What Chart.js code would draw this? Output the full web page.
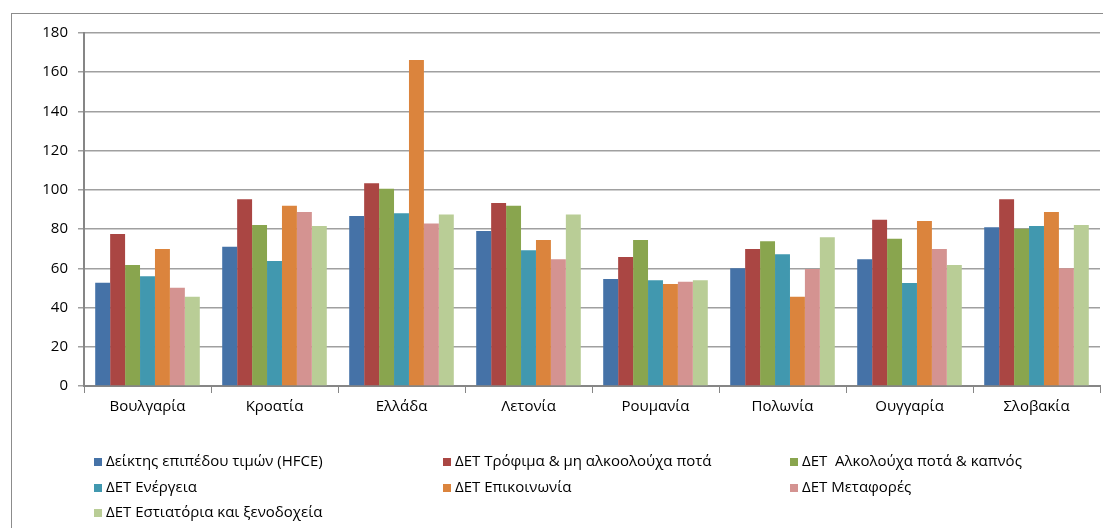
<!DOCTYPE html>
<html>
<head>
<meta charset="utf-8">
<script src="https://cdn.jsdelivr.net/npm/chart.js@4.4.1/dist/chart.umd.min.js"></script>
<style>
  html, body { margin: 0; padding: 0; background: #fff; overflow: hidden; }
  #wrap { position: relative; width: 1103px; height: 528px; }
  #frame { position: absolute; left: 11px; top: 13px; width: 1200px; height: 600px; border: 1px solid #8c8c8c; }
  #chartBox { position: absolute; left: 0; top: 0; width: 1103px; height: 528px; }
  #legend { position: absolute; left: 0; top: 0; font-family: "Open Sans", "Liberation Sans", sans-serif; font-size: 15px; color: #000; }
  .item { position: absolute; white-space: nowrap; line-height: 16px; }
  .item span.box { display: inline-block; width: 8px; height: 8px; margin-right: 4px; vertical-align: 0px; }
</style>
</head>
<body>
<div id="wrap">
  <div id="frame"></div>
  <div id="chartBox"><canvas id="myChart"></canvas></div>
  <div id="legend"></div>
</div>
<script>
// Χώρες
const paises = ['Βουλγαρία', 'Κροατία', 'Ελλάδα', 'Λετονία', 'Ρουμανία', 'Πολωνία', 'Ουγγαρία', 'Σλοβακία'];

// Σειρές
const seriesNames = [
  'Δείκτης επιπέδου τιμών (HFCE)',
  'ΔΕΤ Τρόφιμα & μη αλκοολούχα ποτά',
  'ΔΕΤ  Αλκολούχα ποτά & καπνός',
  'ΔΕΤ Ενέργεια',
  'ΔΕΤ Επικοινωνία',
  'ΔΕΤ Μεταφορές',
  'ΔΕΤ Εστιατόρια και ξενοδοχεία'
];

const hfce       = [52.7, 71.0, 86.7, 79.0, 54.6, 60.0, 64.6, 80.9];
const trofima    = [77.5, 95.2, 103.4, 93.3, 65.8, 69.9, 84.8, 95.2];
const alkoolouxa = [61.7, 82.1, 100.6, 91.9, 74.5, 73.8, 75.1, 80.2];
const energeia   = [55.9, 63.7, 88.1, 69.2, 53.9, 67.2, 52.5, 81.6];
const epikoinonia= [69.9, 91.9, 166.2, 74.5, 52.0, 45.5, 84.1, 88.7];
const metafores  = [50.1, 88.7, 82.8, 64.6, 53.2, 59.7, 69.9, 60.0];
const estiatoria = [45.5, 81.6, 87.4, 87.4, 53.9, 75.8, 61.7, 82.1];

const yTicks = [0, 20, 40, 60, 80, 100, 120, 140, 160, 180];

const colores = ['#4572A7', '#AA4643', '#89A54E', '#4198AF', '#DB843D', '#D49391', '#B9CD96'];
const valores = [hfce, trofima, alkoolouxa, energeia, epikoinonia, metafores, estiatoria];

const datasets = seriesNames.map((name, i) => ({
  label: name,
  data: valores[i],
  backgroundColor: colores[i],
  borderWidth: 0,
  categoryPercentage: 7 / 8.5,
  barPercentage: 1.0
}));

const ctx = document.getElementById('myChart');
new Chart(ctx, {
  type: 'bar',
  data: { labels: paises, datasets: datasets },
  options: {
    responsive: true,
    maintainAspectRatio: false,
    animation: false,
    layout: { padding: { top: 33, right: 3, left: 0, bottom: 0 } },
    plugins: {
      legend: { display: false },
      tooltip: { enabled: false }
    },
    scales: {
      x: {
        offset: true,
        grid: { display: true, drawOnChartArea: false, offset: true, color: '#868686', tickLength: 7, lineWidth: 1 },
        border: { color: '#868686', width: 2 },
        ticks: { color: '#000', font: { family: 'Open Sans', size: 15 }, padding: 5, maxRotation: 0 },
        afterFit: function(scale) { scale.height = 142; }
      },
      y: {
        min: 0,
        max: 180,
        afterBuildTicks: function(scale) { scale.ticks = yTicks.map(v => ({ value: v })); },
        grid: { color: '#a0a0a0', lineWidth: 1.5, tickLength: 6 },
        border: { color: '#868686', width: 2 },
        ticks: { color: '#000', font: { family: 'Open Sans', size: 15 }, padding: 10 },
        afterFit: function(scale) { scale.width = 84; }
      }
    }
  }
});

// Υπόμνημα σε τρεις στήλες
const legendEl = document.getElementById('legend');
const colX = [94, 443, 790];
const rowY = [452, 478, 503];
seriesNames.forEach((name, i) => {
  const div = document.createElement('div');
  div.className = 'item';
  div.style.left = colX[i % 3] + 'px';
  div.style.top = rowY[Math.floor(i / 3)] + 'px';
  div.innerHTML = '<span class="box" style="background:' + colores[i] + '"></span>' + name.replace(/  /g, ' &nbsp;');
  legendEl.appendChild(div);
});
</script>
</body>
</html>
